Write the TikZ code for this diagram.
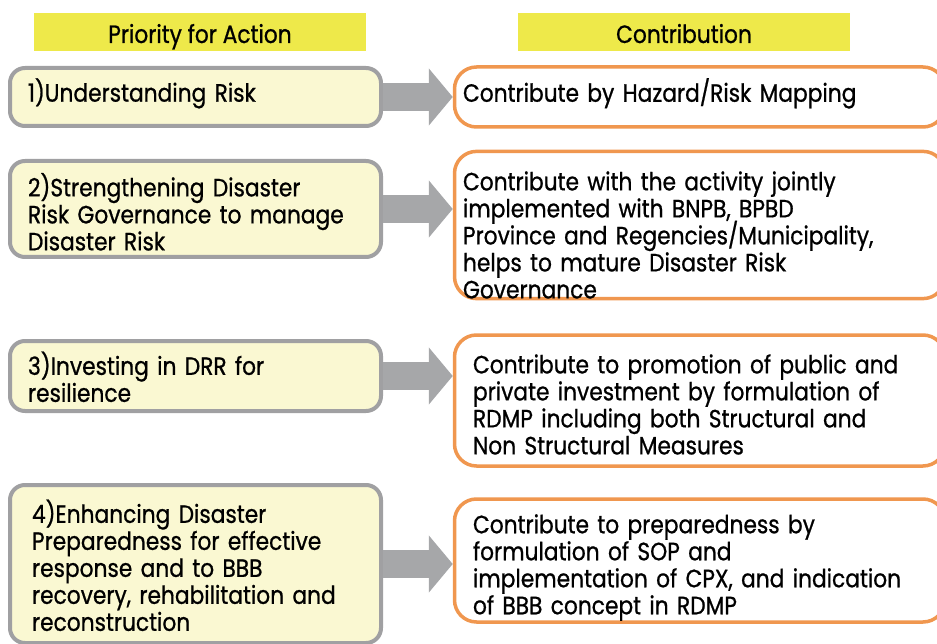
\documentclass[tikz,border=0pt]{standalone}
\usepackage{fontspec}
\setmainfont{Poppins}[FakeStretch=0.87, FakeBold=0.8]
\usetikzlibrary{arrows.meta}
\definecolor{headyellow}{RGB}{238,233,74}
\definecolor{paleyellow}{RGB}{250,248,210}
\definecolor{boxgray}{RGB}{160,160,162}
\definecolor{arrowgray}{RGB}{166,167,169}
\definecolor{boxorange}{RGB}{240,151,79}
\lineskiplimit=-30pt
\normallineskiplimit=-30pt
\begin{document}
\begin{tikzpicture}[x=1pt, y=-1pt,
    every node/.style={font=\fontsize{25}{27}\selectfont},
    header/.style={fill=headyellow, minimum width=332pt, minimum height=38pt, inner sep=0pt,
      text height=22pt, text depth=0pt},
    prio/.style={draw=boxgray, fill=paleyellow, line width=4pt, rounded corners=15pt,
      align=left, inner xsep=18pt, inner ysep=0pt, text width=335pt},
    contrib/.style={draw=boxorange, fill=white, line width=3.5pt, rounded corners=22pt,
      align=left, inner xsep=8.5pt, inner ysep=0pt, text width=473.5pt},
    bigarrow/.style={draw=arrowgray, line width=28pt, -{Triangle[length=24pt, width=56pt]}}]
    \useasboundingbox (0, 0) rectangle (937, 644);
    \clip (0, 0) rectangle (937, 644);
    \node (h1) at (200, 32) [header] {Priority for Action};
    \node (h2) at (684, 32) [header] {Contribution};
    \node (pa1) at (195.5, 97) [prio, minimum height=58pt] {1)Understanding Risk\rule[-14pt]{0pt}{0pt}};
    \node (pa2) at (195.5, 209) [prio, minimum height=96pt] {\rule{0pt}{29pt}2)Strengthening Disaster\\Risk Governance to manage\\Disaster Risk};
    \node (pa3) at (195.5, 376) [prio, minimum height=70pt] {\rule{0pt}{25pt}3)Investing in DRR for\\resilience};
    \node (pa4) at (195.5, 564) [prio, minimum height=158pt, inner xsep=22pt, text width=327pt] {\rule{0pt}{26pt}4)Enhancing Disaster\\Preparedness for effective\\response and to BBB\\recovery, rehabilitation and\\reconstruction};
    \node (co1) at (699.75, 97) [contrib, minimum height=60pt] {Contribute by Hazard/Risk Mapping\rule[-14pt]{0pt}{0pt}};
    \node (co2) at (699.75, 225) [contrib, minimum height=146pt] {\rule{0pt}{39pt}Contribute with the activity jointly\\implemented with BNPB, BPBD\\Province and Regencies\smash{/}Municipality,\\helps to mature Disaster Risk\\Governance};
    \node (co3) at (699.75, 400.5) [contrib, minimum height=131pt, inner xsep=18.5pt, text width=453.5pt] {\rule{0pt}{27pt}Contribute to promotion of public and\\private investment by formulation of\\RDMP including both Structural and\\Non Structural Measures};
    \node (co4) at (699.75, 560.5) [contrib, minimum height=123pt, inner xsep=18.5pt, text width=453.5pt] {\rule{0pt}{33pt}Contribute to preparedness by\\formulation of SOP and\\implementation of CPX, and indication\\of BBB concept in RDMP};
    \draw[bigarrow] (pa1.east) -- (pa1.east -| co1.west);
    \draw[bigarrow] (pa2.east) -- (pa2.east -| co2.west);
    \draw[bigarrow] (pa3.east) -- (pa3.east -| co3.west);
    \draw[bigarrow] (pa4.east) -- (pa4.east -| co4.west);
\end{tikzpicture}
\end{document}
